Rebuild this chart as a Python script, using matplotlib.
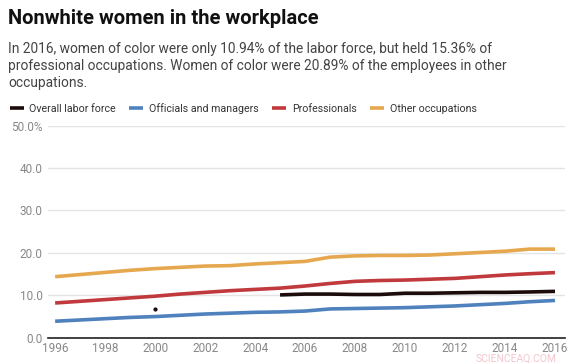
import numpy as np
import matplotlib
matplotlib.use("Agg")
import matplotlib.pyplot as plt

plt.rcParams['font.family'] = ['Roboto', 'DejaVu Sans']

years = list(range(1996, 2017))
nan = np.nan

overall = [nan, nan, nan, nan, 6.8, nan, nan, nan, nan,
           10.1, 10.3, 10.3, 10.2, 10.2, 10.5, 10.5, 10.6, 10.7, 10.7, 10.8, 10.94]
officials = [3.9, 4.2, 4.5, 4.8, 5.0, 5.3, 5.6, 5.8, 6.0, 6.1, 6.3,
             6.8, 6.9, 7.0, 7.1, 7.3, 7.5, 7.8, 8.1, 8.5, 8.8]
professionals = [8.2, 8.6, 9.0, 9.4, 9.8, 10.3, 10.7, 11.1, 11.4, 11.7, 12.2,
                 12.8, 13.3, 13.5, 13.6, 13.8, 14.0, 14.4, 14.8, 15.1, 15.36]
other = [14.4, 14.9, 15.4, 15.9, 16.3, 16.6, 16.9, 17.0, 17.4, 17.7, 18.0,
         19.0, 19.3, 19.4, 19.4, 19.5, 19.8, 20.1, 20.4, 20.9, 20.89]

series = [
    ("Overall labor force", overall, "#1c0b0b"),
    ("Officials and managers", officials, "#4f81bd"),
    ("Professionals", professionals, "#c0393d"),
    ("Other occupations", other, "#e6a84f"),
]

fig = plt.figure(figsize=(5.73, 3.64), dpi=100)
ax = fig.add_axes([0.084, 0.072, 0.902, 0.583])

for name, vals, col in series:
    ax.plot(years, vals, color=col, lw=2.6, label=name, solid_capstyle="butt")
    # isolated points (no neighbours) get a small dot
    v = np.array(vals, dtype=float)
    for i in range(len(v)):
        prev_nan = i == 0 or np.isnan(v[i - 1])
        next_nan = i == len(v) - 1 or np.isnan(v[i + 1])
        if not np.isnan(v[i]) and prev_nan and next_nan:
            ax.plot(years[i], v[i], "o", color=col, ms=2)

ax.set_ylim(0, 50)
ax.set_xlim(1995.72, 2016.4)
ax.set_yticks([0, 10, 20, 30, 40, 50])
ax.set_yticklabels(["0.0", "10.0", "20.0", "30.0", "40.0", "50.0%"])
ax.set_xticks(range(1996, 2017, 2))
ax.grid(axis="y", color="#e4e4e4", lw=1)
ax.set_axisbelow(True)
for s in ["top", "right", "left"]:
    ax.spines[s].set_visible(False)
ax.spines["bottom"].set_color("#222222")
ax.spines["bottom"].set_linewidth(1.2)
ax.tick_params(axis="both", length=0, labelsize=8.5, colors="#888888")
ax.tick_params(axis="y", pad=4)
ax.tick_params(axis="x", pad=3)

fig.text(0.014, 0.95, "Nonwhite women in the workplace", fontsize=14.5,
         fontweight="bold", color="#111111", va="center")
fig.text(0.014, 0.885,
         "In 2016, women of color were only 10.94% of the labor force, but held 15.36% of\n"
         "professional occupations. Women of color were 20.89% of the employees in other\n"
         "occupations.",
         fontsize=9.9, color="#444444", va="top", linespacing=1.3)

fig.legend(loc="center left", bbox_to_anchor=(0.0, 0.703), ncol=4, frameon=False,
           fontsize=7.7, handlelength=1.3, handletextpad=0.55, columnspacing=1.25,
           labelcolor="#333333")

fig.text(0.972, 0.0, "SCIENCEAQ.COM", fontsize=7.5, color="#f0b8c0", ha="right",
         va="bottom", alpha=0.8)

fig.savefig("out.png", dpi=100)
